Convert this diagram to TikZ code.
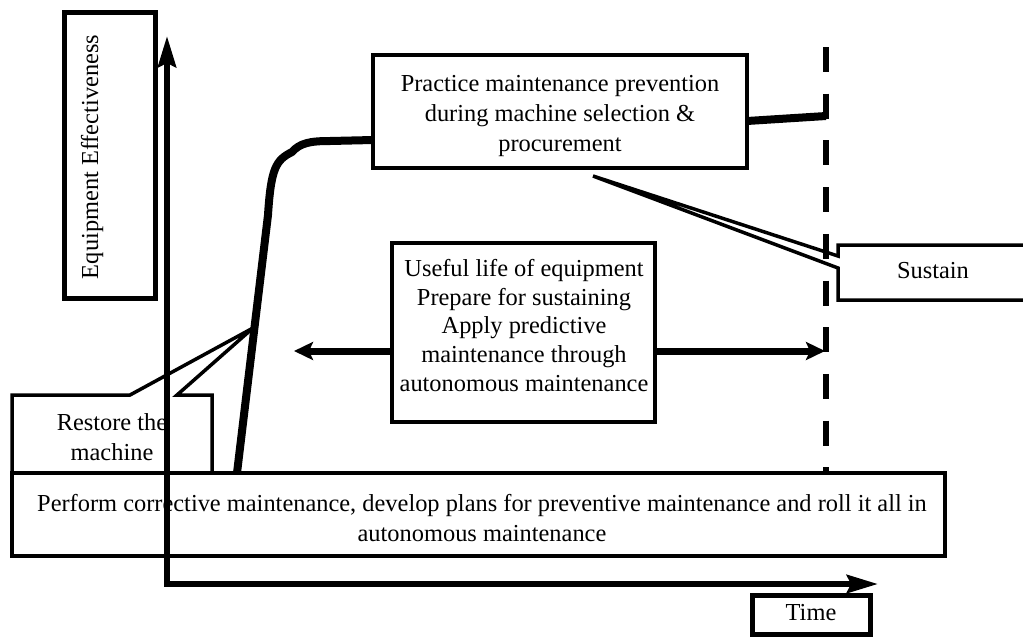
\documentclass[tikz,border=0pt]{standalone}
\usepackage{fontspec}
\setmainfont{Liberation Serif}
\usetikzlibrary{arrows.meta}
\begin{document}
\begin{tikzpicture}[x=1pt,y=-1pt,
  txt/.style={font=\fontsize{24.4}{30}\selectfont, align=center, inner sep=0pt},
  thinbox/.style={draw, line width=3.5pt, fill=white, inner sep=0pt},
  thickbox/.style={draw, line width=5pt, fill=white, inner sep=0pt},
  callout/.style={draw, line width=3.5pt, fill=white, line join=miter},
  curveline/.style={line width=8pt, line cap=butt, line join=round},
  axisline/.style={line width=6pt, line join=miter,
     {Stealth[length=31pt,width=18pt,inset=4pt]}-{Stealth[length=31pt,width=18pt,inset=4pt]}},
  dblarrow/.style={line width=7pt,
     {Stealth[length=19pt,width=18pt,inset=4pt]}-{Stealth[length=19pt,width=18pt,inset=4pt]}},
  dashline/.style={line width=6pt, dash pattern=on 25pt off 21.7pt}]
\useasboundingbox (0,0) rectangle (1023,638);
\clip (0,0) rectangle (1023,638);

% Equipment Effectiveness box
\node[thickbox, minimum width=91pt, minimum height=286pt] (eebox) at (109.5,155) {};
\node[txt, rotate=90, anchor=base] (eelabel) at (98,157) {Equipment Effectiveness};

% double arrow
\coordinate (la) at (294,351);
\coordinate (ra) at (825,351);
\draw[dblarrow] (la) -- (ra);

% middle box
\node[thinbox, minimum width=263pt, minimum height=179pt] (mid) at (523.5,332.5) {};
\node[txt, font=\fontsize{24.4}{28.6}\selectfont] (midtext) at (524,325.5) {Useful life of equipment\\Prepare for sustaining\\Apply predictive\\maintenance through\\autonomous maintenance};

% practice box
\node[thinbox, minimum width=374pt, minimum height=113pt] (prac) at (560,111.5) {};
\node[txt] (practext) at (560,116.5) {Practice maintenance prevention\\during machine selection \&\\procurement};

% sustain callout
\coordinate (stip) at (593,176);
\draw[callout] (1040,245) -- (838,245) -- (838,256) -- (stip) -- (838,268) -- (838,300) -- (1040,300);
\node[txt, anchor=base] (sustain) at (933,278) {Sustain};

% restore callout
\coordinate (rtip) at (253,328);
\draw[callout, miter limit=6] (12,395) -- (130,395) -- (rtip) -- (177,395) -- (212,395) -- (212,473) -- (12,473) -- cycle;
\node[txt] (restore) at (112,437) {Restore the\\machine};

% effectiveness curve
\coordinate (c0) at (237,473);
\coordinate (c1) at (373,140);
\coordinate (c2) at (747,121);
\coordinate (c3) at (826,116);
\draw[curveline] (c0) -- (268,215) .. controls (271,168) and (276,160) .. (292,152)
   .. controls (300,143) and (310,141) .. (330,141) -- (c1);
\draw[line width=8pt] (c2) -- (c3);

% dashed line
\coordinate (dtop) at (826,47);
\coordinate (dbot) at (826,473);
\draw[dashline] (dtop) -- (dbot);

% bottom box
\node[thinbox, minimum width=933pt, minimum height=83pt] (bottom) at (478.5,514.5) {};
\node[txt] (bottomtext) at (482,518) {Perform corrective maintenance, develop plans for preventive maintenance and roll it all in\\autonomous maintenance};

% axes
\coordinate (ytip) at (167,36);
\coordinate (origin) at (167,584);
\coordinate (xtip) at (878,584);
\draw[axisline] (ytip) -- (origin) -- (xtip);

% time box
\node[thickbox, minimum width=118pt, minimum height=39pt] (timebox) at (811,614.5) {};
\node[txt, anchor=base] (timetext) at (811,620) {Time};
\end{tikzpicture}
\end{document}
